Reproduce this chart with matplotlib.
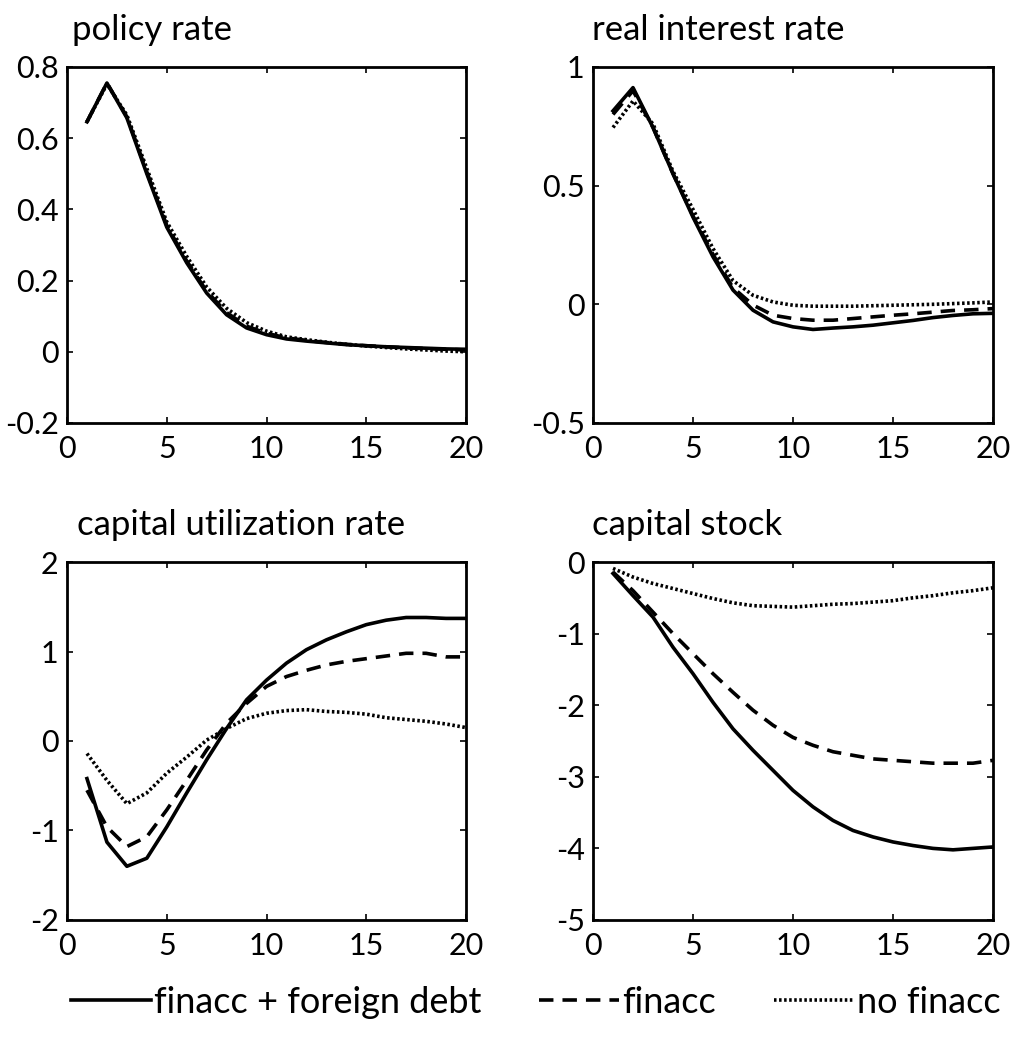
import matplotlib
matplotlib.use('Agg')
import matplotlib.pyplot as plt
from matplotlib.lines import Line2D

plt.rcParams['font.family'] = ['Lato', 'DejaVu Sans']

quarters = list(range(1, 21))

# policy rate
policy_full = [0.646, 0.755, 0.657, 0.50, 0.35, 0.25, 0.165, 0.104, 0.067, 0.048,
               0.036, 0.030, 0.025, 0.020, 0.017, 0.014, 0.012, 0.010, 0.008, 0.007]
policy_finacc = [0.646, 0.755, 0.660, 0.505, 0.355, 0.255, 0.170, 0.110, 0.072, 0.052,
                 0.039, 0.032, 0.026, 0.021, 0.017, 0.014, 0.011, 0.009, 0.007, 0.005]
policy_nofin = [0.646, 0.752, 0.665, 0.515, 0.365, 0.268, 0.182, 0.122, 0.082, 0.058,
                0.042, 0.034, 0.027, 0.021, 0.016, 0.012, 0.008, 0.005, 0.002, 0.0]

# real interest rate
real_full = [0.815, 0.913, 0.745, 0.55, 0.367, 0.20, 0.06, -0.025, -0.074, -0.095,
             -0.106, -0.10, -0.095, -0.088, -0.078, -0.068, -0.056, -0.047, -0.040, -0.038]
real_finacc = [0.80, 0.90, 0.745, 0.55, 0.372, 0.21, 0.07, -0.003, -0.046, -0.06,
               -0.067, -0.067, -0.06, -0.053, -0.046, -0.04, -0.033, -0.026, -0.023, -0.018]
real_nofin = [0.745, 0.857, 0.76, 0.56, 0.40, 0.235, 0.10, 0.038, 0.01, -0.004,
              -0.008, -0.008, -0.008, -0.006, -0.004, -0.002, 0.0, 0.003, 0.006, 0.01]

# capital utilization rate
util_full = [-0.42, -1.13, -1.40, -1.31, -0.96, -0.58, -0.21, 0.14, 0.46, 0.68,
             0.87, 1.02, 1.13, 1.22, 1.30, 1.35, 1.38, 1.38, 1.37, 1.37]
util_finacc = [-0.55, -0.96, -1.18, -1.07, -0.77, -0.44, -0.10, 0.20, 0.42, 0.61,
               0.72, 0.79, 0.85, 0.89, 0.92, 0.95, 0.98, 0.98, 0.94, 0.94]
util_nofin = [-0.14, -0.44, -0.70, -0.58, -0.36, -0.18, 0.01, 0.14, 0.25, 0.31,
              0.34, 0.35, 0.33, 0.32, 0.30, 0.26, 0.24, 0.22, 0.19, 0.15]

# capital stock
stock_full = [-0.16, -0.47, -0.77, -1.19, -1.56, -1.96, -2.33, -2.63, -2.91, -3.19,
              -3.42, -3.61, -3.75, -3.84, -3.91, -3.96, -4.00, -4.02, -4.00, -3.98]
stock_finacc = [-0.14, -0.40, -0.70, -1.00, -1.28, -1.56, -1.82, -2.07, -2.28, -2.45,
                -2.56, -2.65, -2.70, -2.75, -2.77, -2.79, -2.81, -2.81, -2.81, -2.77]
stock_nofin = [-0.09, -0.21, -0.30, -0.37, -0.44, -0.51, -0.57, -0.61, -0.62, -0.63,
               -0.61, -0.59, -0.58, -0.56, -0.54, -0.50, -0.47, -0.43, -0.40, -0.36]

panels = [
    ('policy rate', policy_full, policy_finacc, policy_nofin,
     (-0.2, 0.8), [-0.2, 0, 0.2, 0.4, 0.6, 0.8], ['-0.2', '0', '0.2', '0.4', '0.6', '0.8']),
    ('real interest rate', real_full, real_finacc, real_nofin,
     (-0.5, 1), [-0.5, 0, 0.5, 1], ['-0.5', '0', '0.5', '1']),
    ('capital utilization rate', util_full, util_finacc, util_nofin,
     (-2, 2), [-2, -1, 0, 1, 2], ['-2', '-1', '0', '1', '2']),
    ('capital stock', stock_full, stock_finacc, stock_nofin,
     (-5, 0), [-5, -4, -3, -2, -1, 0], ['-5', '-4', '-3', '-2', '-1', '0']),
]

labels = ['finacc + foreign debt', 'finacc', 'no finacc']
styles = ['-', (0, (4, 2.5)), (0, (0.7, 0.7))]

fig = plt.figure(figsize=(10.17, 10.4), dpi=100)

positions = [
    [0.0659, 0.5933, 0.3923, 0.3423],
    [0.5831, 0.5933, 0.3933, 0.3423],
    [0.0659, 0.1154, 0.3923, 0.3442],
    [0.5831, 0.1154, 0.3933, 0.3442],
]
title_x = [0.013, -0.003, 0.025, -0.003]

for pos, tx, (title, full, fin, nofin, ylim, yticks, ylabels) in zip(positions, title_x, panels):
    ax = fig.add_axes(pos)
    ax.plot(quarters, full, color='black', linestyle=styles[0], linewidth=2.6)
    ax.plot(quarters, fin, color='black', linestyle=styles[1], linewidth=2.6)
    ax.plot(quarters, nofin, color='black', linestyle=styles[2], linewidth=2.6)
    ax.set_xlim(0, 20)
    ax.set_ylim(*ylim)
    ax.set_xticks([0, 5, 10, 15, 20])
    ax.set_yticks(yticks)
    ax.set_yticklabels(ylabels)
    ax.tick_params(direction='in', length=4, width=1.2, top=True, right=True,
                   labelsize=22, pad=6)
    ax.tick_params(axis='x', pad=9)
    for sp in ax.spines.values():
        sp.set_linewidth(2)
    ax.text(tx, 1.076, title, transform=ax.transAxes, fontsize=25,
            ha='left', va='baseline')

handles = [Line2D([], [], color='black', linestyle=s, linewidth=2.6) for s in styles]
fig.legend(handles, labels, loc='center', bbox_to_anchor=(0.527, 0.036), ncol=3,
           frameon=False, handlelength=2.2, handletextpad=0.1,
           columnspacing=1.6, prop={'size': 26})

fig.savefig('out.png', dpi=100)
